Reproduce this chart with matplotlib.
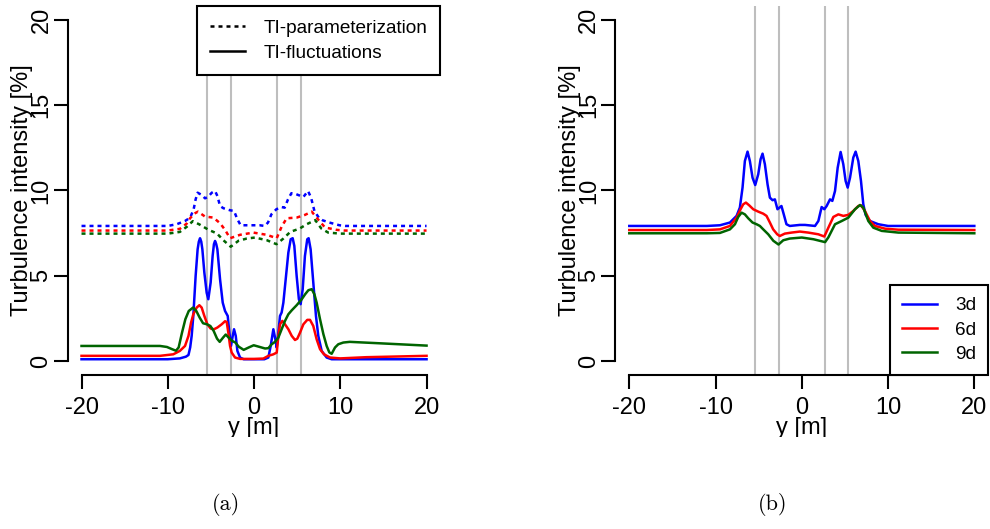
import numpy as np
import matplotlib
matplotlib.use("Agg")
import matplotlib.pyplot as plt
from matplotlib.lines import Line2D
from matplotlib.transforms import Bbox, TransformedBbox

plt.rcParams['font.family'] = ['Liberation Sans', 'DejaVu Sans']
plt.rcParams['axes.unicode_minus'] = False

# ---------------- data ----------------
wake_edges = [-5.4, -2.7, 2.7, 5.4]
x_ticks = [-20, -10, 0, 10, 20]
y_ticks = [0, 5, 10, 15, 20]
series_labels = ["3d", "6d", "9d"]
series_colors = ["#0000FF", "#FF0000", "#006400"]
style_labels = ["TI-parameterization", "TI-fluctuations"]

# panel (a): TI-fluctuations (solid)
fluct_3d = [(-20, 0.1), (-10, 0.1), (-8.6, 0.15), (-7.9, 0.25), (-7.6, 0.35), (-7.4, 0.8), (-7.23, 1.47),
            (-7.04, 2.64), (-6.77, 4.99), (-6.54, 6.55), (-6.4, 7.0), (-6.26, 7.2), (-6.12, 7.0),
            (-5.99, 6.55), (-5.76, 5.18), (-5.49, 4.0), (-5.3, 3.62), (-5.03, 4.6), (-4.8, 6.16),
            (-4.65, 6.85), (-4.52, 7.04), (-4.38, 6.85), (-4.25, 6.55), (-3.94, 4.79), (-3.63, 3.42),
            (-3.36, 2.93), (-3.05, 2.64), (-2.86, 1.66), (-2.67, 0.88), (-2.47, 1.47), (-2.32, 1.86),
            (-2.12, 1.47), (-1.93, 0.59), (-1.62, 0.2), (-1.2, 0.1), (0, 0.1), (1.2, 0.1), (1.66, 0.2),
            (1.93, 0.88), (2.24, 1.86), (2.47, 1.27), (2.63, 0.78), (2.82, 1.66), (3.01, 2.64),
            (3.2, 2.84), (3.4, 3.42), (3.71, 4.99), (3.98, 6.36), (4.25, 7.14), (4.48, 7.2),
            (4.67, 6.75), (4.94, 4.99), (5.2, 3.62), (5.4, 3.33), (5.64, 4.2), (5.9, 6.16),
            (6.17, 7.14), (6.33, 7.2), (6.56, 6.55), (6.87, 4.6), (7.18, 2.64), (7.45, 1.47),
            (7.84, 0.59), (8.42, 0.2), (9.0, 0.1), (10, 0.1), (20, 0.1)]
fluct_6d = [(-20, 0.3), (-10.9, 0.3), (-9.36, 0.39), (-8.6, 0.59), (-8.0, 0.88), (-7.6, 1.47),
            (-7.3, 2.25), (-7.04, 2.74), (-6.65, 3.13), (-6.34, 3.27), (-6.07, 3.13), (-5.76, 2.64),
            (-5.41, 2.15), (-5.03, 1.9), (-4.64, 1.86), (-4.25, 1.96), (-3.75, 2.15), (-3.36, 2.33),
            (-3.17, 2.29), (-2.98, 1.66), (-2.78, 0.88), (-2.59, 0.49), (-2.2, 0.2), (-1.62, 0.12),
            (0, 0.12), (1.08, 0.14), (1.66, 0.3), (2.24, 0.39), (2.63, 0.49), (2.82, 1.47),
            (3.01, 2.15), (3.28, 2.35), (3.59, 2.15), (3.98, 1.86), (4.37, 1.47), (4.75, 1.23),
            (5.02, 1.31), (5.33, 1.66), (5.72, 2.15), (6.17, 2.41), (6.49, 2.41), (6.87, 2.05),
            (7.26, 1.27), (7.65, 0.69), (8.11, 0.39), (8.81, 0.2), (10, 0.15), (13, 0.22), (20, 0.3)]
fluct_9d = [(-20, 0.88), (-10.9, 0.88), (-10.1, 0.82), (-9.5, 0.69), (-9.05, 0.6), (-8.74, 0.79),
            (-8.35, 1.66), (-7.96, 2.45), (-7.57, 2.93), (-7.07, 3.13), (-6.69, 2.93), (-6.3, 2.54),
            (-5.91, 2.21), (-5.45, 2.15), (-5.06, 2.05), (-4.68, 1.76), (-4.29, 1.31), (-3.98, 1.12),
            (-3.59, 1.37), (-3.28, 1.55), (-2.94, 1.37), (-2.55, 1.18), (-2.16, 1.08), (-1.78, 0.84),
            (-1.2, 0.65), (-0.62, 0.79), (-0.04, 0.92), (0.53, 0.84), (1.28, 0.73), (1.66, 0.75),
            (2.05, 0.98), (2.43, 1.12), (2.82, 1.37), (3.2, 1.86), (3.59, 2.35), (3.98, 2.74),
            (4.37, 2.97), (4.94, 3.27), (5.53, 3.62), (5.92, 3.91), (6.3, 4.15), (6.69, 4.21),
            (7.0, 3.91), (7.26, 3.42), (7.65, 2.45), (8.04, 1.57), (8.42, 0.88), (8.73, 0.5),
            (9.0, 0.42), (9.39, 0.79), (9.77, 0.98), (10.35, 1.08), (11.1, 1.12), (14, 1.05), (20, 0.9)]

# panel (a): TI-parameterization (dashed)
param_3d = [(-20, 7.92), (-10, 7.92), (-8.97, 8.02), (-8.0, 8.21), (-7.4, 8.41), (-7.0, 8.9),
            (-6.77, 9.48), (-6.54, 9.87), (-6.07, 9.74), (-5.68, 9.54), (-5.3, 9.64), (-4.9, 9.87),
            (-4.52, 9.97), (-4.25, 9.68), (-3.94, 9.09), (-3.55, 8.96), (-3.17, 8.9), (-2.78, 8.84),
            (-2.32, 8.8), (-1.93, 8.31), (-1.55, 7.96), (0.66, 7.96), (1.24, 7.92), (1.62, 8.12),
            (2.01, 8.6), (2.59, 8.9), (3.17, 9.03), (3.55, 8.99), (3.94, 9.48), (4.33, 9.84),
            (4.71, 9.82), (5.1, 9.74), (5.72, 9.62), (6.26, 9.97), (6.61, 9.58), (7.0, 8.8),
            (7.5, 8.41), (7.96, 8.25), (8.73, 8.12), (9.9, 7.96), (10.6, 7.92), (20, 7.92)]
param_6d = [(-20, 7.65), (-10, 7.65), (-8.6, 7.75), (-7.8, 8.06), (-7.42, 8.37), (-6.9, 8.65),
            (-6.5, 8.76), (-5.68, 8.47), (-4.71, 8.41), (-3.94, 8.08), (-3.36, 7.69), (-2.78, 7.2),
            (-1.62, 7.4), (-0.08, 7.53), (1.47, 7.4), (2.63, 7.2), (3.2, 7.88), (3.78, 8.37),
            (4.94, 8.41), (5.91, 8.57), (6.69, 8.76), (7.46, 8.28), (8.23, 7.83), (9.58, 7.69),
            (10.5, 7.65), (20, 7.65)]
param_9d = [(-20, 7.47), (-10, 7.47), (-8.6, 7.57), (-7.8, 7.87), (-7.1, 8.2), (-6.3, 8.0),
            (-5.3, 7.7), (-4.3, 7.48), (-3.55, 7.08), (-2.7, 6.7), (-1.8, 7.05), (-0.85, 7.18),
            (0.1, 7.24), (1.5, 7.08), (2.6, 6.85), (3.4, 7.18), (4.2, 7.57), (5.3, 7.77),
            (6.1, 8.02), (7.1, 8.26), (7.8, 7.77), (8.6, 7.53), (10, 7.47), (20, 7.47)]

# panel (b): total turbulence intensity
total_3d = [(-20, 7.92), (-11, 7.92), (-9.49, 7.96), (-8.33, 8.12), (-7.56, 8.51), (-7.18, 9.0),
            (-6.87, 10.17), (-6.6, 11.73), (-6.29, 12.28), (-6.02, 11.73), (-5.71, 10.75),
            (-5.4, 10.32), (-5.05, 10.95), (-4.78, 11.83), (-4.55, 12.16), (-4.28, 11.54),
            (-3.97, 10.36), (-3.7, 9.58), (-3.39, 9.43), (-3.12, 9.48), (-2.82, 8.9), (-2.36, 9.09),
            (-2.09, 8.6), (-1.78, 8.02), (-1.39, 7.92), (-0.23, 7.98), (0.37, 7.98), (1.53, 7.92),
            (1.92, 8.21), (2.3, 9.03), (2.61, 8.9), (2.88, 9.09), (3.27, 9.48), (3.54, 9.39),
            (3.85, 9.97), (4.16, 11.34), (4.5, 12.26), (4.81, 11.54), (5.08, 10.56), (5.32, 10.17),
            (5.59, 10.75), (5.97, 11.93), (6.24, 12.28), (6.55, 11.73), (6.86, 10.56), (7.13, 9.19),
            (7.4, 8.57), (7.9, 8.21), (8.87, 8.02), (10.0, 7.92), (20, 7.92)]
total_6d = [(-20, 7.68), (-11, 7.68), (-9.49, 7.72), (-8.33, 7.92), (-7.56, 8.41), (-7.1, 8.9),
            (-6.79, 9.19), (-6.48, 9.29), (-6.1, 9.13), (-5.63, 8.9), (-5.05, 8.76), (-4.47, 8.64),
            (-4.09, 8.51), (-3.7, 8.12), (-3.32, 7.72), (-2.85, 7.43), (-2.55, 7.33), (-1.97, 7.47),
            (-1.2, 7.53), (-0.23, 7.59), (0.76, 7.53), (1.92, 7.43), (2.61, 7.3), (3.08, 7.82),
            (3.66, 8.45), (4.24, 8.6), (4.81, 8.51), (5.4, 8.57), (5.97, 8.8), (6.55, 9.09),
            (6.86, 9.13), (7.32, 8.8), (7.9, 8.21), (8.48, 7.92), (9.65, 7.76), (11.2, 7.7), (20, 7.68)]
total_9d = [(-20, 7.49), (-11, 7.49), (-9.49, 7.51), (-8.33, 7.72), (-7.75, 8.02), (-7.37, 8.45),
            (-6.98, 8.7), (-6.6, 8.6), (-6.21, 8.37), (-5.71, 8.12), (-5.24, 8.02), (-4.86, 7.92),
            (-4.47, 7.72), (-3.89, 7.43), (-3.3, 7.05), (-2.7, 6.83), (-2.15, 7.08), (-1.4, 7.18),
            (0, 7.24), (1.35, 7.14), (2.7, 6.97), (3.08, 7.25), (3.85, 8.02), (4.63, 8.21),
            (5.4, 8.41), (6.17, 8.9), (6.75, 9.15), (7.13, 9.0), (7.71, 8.21), (8.29, 7.82),
            (9.26, 7.63), (11.2, 7.53), (20, 7.49)]

# ---------------- figure ----------------
FS = 17
fig = plt.figure(figsize=(9.9, 5.29), dpi=100)
ax1 = fig.add_axes([0.0684, 0.2919, 0.3764, 0.696])
ax2 = fig.add_axes([0.6217, 0.2919, 0.3764, 0.696])

LW = 1.8
DASH = (0, (1.6, 1.6))

def style_axes(ax):
    ax.set_xlim(-21.6, 21.6)
    ax.set_ylim(-0.8, 20.8)
    for s in ("top", "right"):
        ax.spines[s].set_visible(False)
    ax.spines["left"].set_bounds(0, 20)
    ax.spines["bottom"].set_bounds(-20, 20)
    for s in ("left", "bottom"):
        ax.spines[s].set_linewidth(1.5)
    ax.set_xticks(x_ticks)
    ax.set_yticks(y_ticks)
    ax.tick_params(length=10, width=1.5, labelsize=FS, direction="out")
    ax.tick_params(axis="x", pad=6)
    ax.tick_params(axis="y", labelrotation=90, pad=1)
    for lab in ax.get_yticklabels():
        lab.set_va("center")
    for x in wake_edges:
        ax.axvline(x, color="#BEBEBE", lw=1.5, zorder=1)
    ax.set_xlabel("y [m]", fontsize=FS)
    ax.set_ylabel("Turbulence intensity [%]", fontsize=FS)
    ax.xaxis.set_label_coords(0.5, -0.115)
    ax.yaxis.set_label_coords(-0.092, 0.5)
    clip = TransformedBbox(Bbox([[0, (529 - 437) / 529], [1, 1]]), fig.transFigure)
    ax.xaxis.label.set_clip_box(clip)
    ax.xaxis.label.set_clip_on(True)

style_axes(ax1)
style_axes(ax2)

def xy(pts):
    a = np.array(pts, dtype=float)
    return a[:, 0], a[:, 1]

for pts, c in zip([param_3d, param_6d, param_9d], series_colors):
    x, y = xy(pts)
    ax1.plot(x, y, color=c, lw=LW, ls=DASH, zorder=3)
for pts, c in zip([fluct_3d, fluct_6d, fluct_9d], series_colors):
    x, y = xy(pts)
    ax1.plot(x, y, color=c, lw=LW, zorder=3)

lines_b = []
for pts, c, lab in zip([total_3d, total_6d, total_9d], series_colors, series_labels):
    x, y = xy(pts)
    ln, = ax2.plot(x, y, color=c, lw=LW, zorder=3, label=lab)
    lines_b.append(ln)

LEG_FS = 13.7
handles_a = [Line2D([], [], color="black", lw=LW, ls=DASH),
             Line2D([], [], color="black", lw=LW)]
leg1 = ax1.legend(handles_a, style_labels, loc="upper right", bbox_to_anchor=(1.0, 1.0),
                  borderaxespad=0, fontsize=LEG_FS, frameon=True, fancybox=False,
                  edgecolor="black", framealpha=1, handlelength=1.85, handletextpad=0.95,
                  borderpad=0.7, labelspacing=0.38)
leg1.get_frame().set_linewidth(1.5)
leg1.set_zorder(5)

leg2 = ax2.legend(lines_b, series_labels, loc="lower right", bbox_to_anchor=(1.0, 0.0),
                  borderaxespad=0, fontsize=LEG_FS, frameon=True, fancybox=False,
                  edgecolor="black", framealpha=1, handlelength=1.85, handletextpad=0.95,
                  borderpad=0.62, labelspacing=0.36)
leg2.get_frame().set_linewidth(1.5)
leg2.set_zorder(5)

fig.text(226 / 990, 1 - 505 / 529, "(a)", family="cmr10", fontsize=16, ha="center", va="center")
fig.text(772.7 / 990, 1 - 505 / 529, "(b)", family="cmr10", fontsize=16, ha="center", va="center")

fig.savefig("out.png", dpi=100)
